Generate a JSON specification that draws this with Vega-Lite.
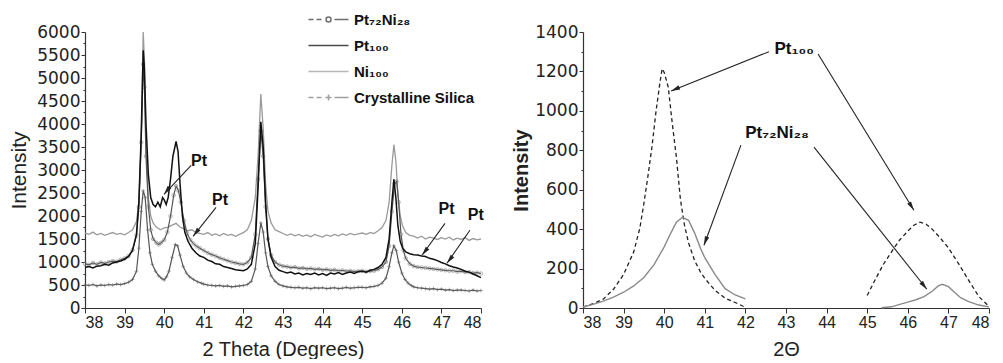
{
"$schema": "https://vega.github.io/schema/vega-lite/v6.json",
"background": "white",
"padding": {"left": 8, "top": 12, "right": 0, "bottom": 0},
"bounds": "flush",
"spacing": 102,
"config": {"view": {"stroke": null}, "font": "Liberation Sans", "axis": {"grid": false, "domainColor": "#333", "tickColor": "#333", "labelColor": "#222", "titleColor": "#222", "domainWidth": 1.2, "tickWidth": 1, "labelOverlap": false}},
"datasets": {
"ni": [{"x":38.0,"y":1630},{"x":38.1,"y":1600},{"x":38.2,"y":1650},{"x":38.3,"y":1590},{"x":38.4,"y":1620},{"x":38.5,"y":1580},{"x":38.6,"y":1610},{"x":38.7,"y":1640},{"x":38.8,"y":1600},{"x":38.9,"y":1620},{"x":39.0,"y":1590},{"x":39.1,"y":1640},{"x":39.2,"y":1700},{"x":39.3,"y":1880},{"x":39.36,"y":2300},{"x":39.42,"y":3600},{"x":39.47,"y":6000},{"x":39.5,"y":5400},{"x":39.54,"y":3500},{"x":39.6,"y":2400},{"x":39.66,"y":2000},{"x":39.72,"y":1850},{"x":39.8,"y":1760},{"x":39.9,"y":1700},{"x":40.0,"y":1740},{"x":40.1,"y":1760},{"x":40.2,"y":1800},{"x":40.3,"y":1840},{"x":40.4,"y":1760},{"x":40.5,"y":1720},{"x":40.6,"y":1680},{"x":40.7,"y":1700},{"x":40.8,"y":1640},{"x":40.9,"y":1620},{"x":41.0,"y":1600},{"x":41.1,"y":1640},{"x":41.2,"y":1580},{"x":41.3,"y":1610},{"x":41.4,"y":1570},{"x":41.5,"y":1620},{"x":41.6,"y":1580},{"x":41.7,"y":1600},{"x":41.8,"y":1560},{"x":41.9,"y":1600},{"x":42.0,"y":1640},{"x":42.1,"y":1700},{"x":42.2,"y":1900},{"x":42.3,"y":2400},{"x":42.37,"y":3300},{"x":42.44,"y":4650},{"x":42.5,"y":3900},{"x":42.56,"y":2700},{"x":42.62,"y":2100},{"x":42.7,"y":1850},{"x":42.8,"y":1700},{"x":42.9,"y":1660},{"x":43.0,"y":1620},{"x":43.1,"y":1580},{"x":43.2,"y":1610},{"x":43.3,"y":1570},{"x":43.4,"y":1600},{"x":43.5,"y":1560},{"x":43.6,"y":1590},{"x":43.7,"y":1550},{"x":43.8,"y":1600},{"x":43.9,"y":1570},{"x":44.0,"y":1540},{"x":44.1,"y":1590},{"x":44.2,"y":1560},{"x":44.3,"y":1600},{"x":44.4,"y":1570},{"x":44.5,"y":1610},{"x":44.6,"y":1580},{"x":44.7,"y":1620},{"x":44.8,"y":1590},{"x":44.9,"y":1610},{"x":45.0,"y":1630},{"x":45.1,"y":1600},{"x":45.2,"y":1640},{"x":45.3,"y":1620},{"x":45.4,"y":1680},{"x":45.5,"y":1750},{"x":45.6,"y":1900},{"x":45.68,"y":2300},{"x":45.75,"y":3100},{"x":45.8,"y":3550},{"x":45.85,"y":3200},{"x":45.9,"y":2500},{"x":45.96,"y":2000},{"x":46.02,"y":1780},{"x":46.1,"y":1640},{"x":46.2,"y":1580},{"x":46.3,"y":1560},{"x":46.4,"y":1520},{"x":46.5,"y":1560},{"x":46.6,"y":1500},{"x":46.7,"y":1540},{"x":46.8,"y":1520},{"x":46.9,"y":1490},{"x":47.0,"y":1530},{"x":47.1,"y":1500},{"x":47.2,"y":1540},{"x":47.3,"y":1480},{"x":47.4,"y":1520},{"x":47.5,"y":1490},{"x":47.6,"y":1530},{"x":47.7,"y":1470},{"x":47.8,"y":1510},{"x":47.9,"y":1480},{"x":48.0,"y":1500}],
"pt": [{"x":38.0,"y":880},{"x":38.1,"y":900},{"x":38.2,"y":870},{"x":38.3,"y":910},{"x":38.4,"y":920},{"x":38.5,"y":950},{"x":38.6,"y":930},{"x":38.7,"y":980},{"x":38.8,"y":1000},{"x":38.9,"y":1020},{"x":39.0,"y":1060},{"x":39.1,"y":1120},{"x":39.2,"y":1250},{"x":39.3,"y":1600},{"x":39.36,"y":2300},{"x":39.42,"y":3800},{"x":39.47,"y":5600},{"x":39.5,"y":5200},{"x":39.54,"y":4000},{"x":39.6,"y":2900},{"x":39.66,"y":2400},{"x":39.72,"y":2250},{"x":39.78,"y":2200},{"x":39.84,"y":2300},{"x":39.9,"y":2200},{"x":39.96,"y":2400},{"x":40.0,"y":2350},{"x":40.05,"y":2250},{"x":40.1,"y":2400},{"x":40.16,"y":2800},{"x":40.22,"y":3300},{"x":40.3,"y":3620},{"x":40.35,"y":3400},{"x":40.4,"y":2700},{"x":40.46,"y":2000},{"x":40.52,"y":1650},{"x":40.6,"y":1450},{"x":40.7,"y":1300},{"x":40.8,"y":1200},{"x":40.9,"y":1130},{"x":41.0,"y":1100},{"x":41.1,"y":1040},{"x":41.2,"y":1010},{"x":41.3,"y":960},{"x":41.4,"y":950},{"x":41.5,"y":900},{"x":41.6,"y":880},{"x":41.7,"y":860},{"x":41.8,"y":830},{"x":41.9,"y":820},{"x":42.0,"y":810},{"x":42.1,"y":850},{"x":42.2,"y":950},{"x":42.3,"y":1400},{"x":42.37,"y":2600},{"x":42.44,"y":4050},{"x":42.5,"y":3500},{"x":42.56,"y":2300},{"x":42.62,"y":1500},{"x":42.7,"y":1100},{"x":42.8,"y":900},{"x":42.9,"y":820},{"x":43.0,"y":790},{"x":43.1,"y":760},{"x":43.2,"y":780},{"x":43.3,"y":740},{"x":43.4,"y":760},{"x":43.5,"y":720},{"x":43.6,"y":750},{"x":43.7,"y":730},{"x":43.8,"y":760},{"x":43.9,"y":720},{"x":44.0,"y":750},{"x":44.1,"y":710},{"x":44.2,"y":760},{"x":44.3,"y":740},{"x":44.4,"y":770},{"x":44.5,"y":730},{"x":44.6,"y":760},{"x":44.7,"y":780},{"x":44.8,"y":750},{"x":44.9,"y":790},{"x":45.0,"y":800},{"x":45.1,"y":780},{"x":45.2,"y":820},{"x":45.3,"y":840},{"x":45.4,"y":880},{"x":45.5,"y":950},{"x":45.6,"y":1100},{"x":45.68,"y":1500},{"x":45.75,"y":2300},{"x":45.8,"y":2800},{"x":45.85,"y":2400},{"x":45.9,"y":1800},{"x":45.96,"y":1450},{"x":46.02,"y":1300},{"x":46.1,"y":1220},{"x":46.2,"y":1180},{"x":46.3,"y":1160},{"x":46.4,"y":1150},{"x":46.5,"y":1130},{"x":46.6,"y":1120},{"x":46.7,"y":1080},{"x":46.8,"y":1060},{"x":46.9,"y":1030},{"x":47.0,"y":990},{"x":47.1,"y":960},{"x":47.2,"y":920},{"x":47.3,"y":890},{"x":47.4,"y":870},{"x":47.5,"y":840},{"x":47.6,"y":800},{"x":47.7,"y":780},{"x":47.8,"y":740},{"x":47.9,"y":700},{"x":48.0,"y":660}],
"ptni": [{"x":38.0,"y":960},{"x":38.1,"y":940},{"x":38.2,"y":980},{"x":38.3,"y":950},{"x":38.4,"y":990},{"x":38.5,"y":970},{"x":38.6,"y":1000},{"x":38.7,"y":1020},{"x":38.8,"y":1010},{"x":38.9,"y":1050},{"x":39.0,"y":1080},{"x":39.1,"y":1130},{"x":39.2,"y":1260},{"x":39.3,"y":1580},{"x":39.36,"y":2200},{"x":39.42,"y":3600},{"x":39.47,"y":5300},{"x":39.5,"y":4800},{"x":39.54,"y":3300},{"x":39.6,"y":2200},{"x":39.66,"y":1700},{"x":39.72,"y":1500},{"x":39.8,"y":1420},{"x":39.86,"y":1380},{"x":39.92,"y":1420},{"x":40.0,"y":1480},{"x":40.08,"y":1650},{"x":40.16,"y":2000},{"x":40.24,"y":2450},{"x":40.3,"y":2650},{"x":40.36,"y":2550},{"x":40.42,"y":2300},{"x":40.5,"y":1900},{"x":40.58,"y":1620},{"x":40.66,"y":1480},{"x":40.74,"y":1400},{"x":40.82,"y":1340},{"x":40.9,"y":1300},{"x":41.0,"y":1250},{"x":41.1,"y":1200},{"x":41.2,"y":1160},{"x":41.3,"y":1130},{"x":41.4,"y":1090},{"x":41.5,"y":1060},{"x":41.6,"y":1030},{"x":41.7,"y":1000},{"x":41.8,"y":980},{"x":41.9,"y":960},{"x":42.0,"y":950},{"x":42.1,"y":990},{"x":42.2,"y":1100},{"x":42.3,"y":1600},{"x":42.37,"y":2800},{"x":42.44,"y":3850},{"x":42.5,"y":3300},{"x":42.56,"y":2200},{"x":42.62,"y":1500},{"x":42.7,"y":1150},{"x":42.8,"y":1000},{"x":42.9,"y":940},{"x":43.0,"y":910},{"x":43.1,"y":900},{"x":43.2,"y":880},{"x":43.3,"y":890},{"x":43.4,"y":860},{"x":43.5,"y":870},{"x":43.6,"y":850},{"x":43.7,"y":860},{"x":43.8,"y":840},{"x":43.9,"y":850},{"x":44.0,"y":830},{"x":44.1,"y":840},{"x":44.2,"y":820},{"x":44.3,"y":830},{"x":44.4,"y":810},{"x":44.5,"y":820},{"x":44.6,"y":800},{"x":44.7,"y":810},{"x":44.8,"y":790},{"x":44.9,"y":800},{"x":45.0,"y":810},{"x":45.1,"y":790},{"x":45.2,"y":800},{"x":45.3,"y":810},{"x":45.4,"y":840},{"x":45.5,"y":890},{"x":45.6,"y":1000},{"x":45.68,"y":1350},{"x":45.75,"y":2100},{"x":45.82,"y":2700},{"x":45.87,"y":2750},{"x":45.92,"y":2300},{"x":45.98,"y":1600},{"x":46.04,"y":1250},{"x":46.1,"y":1080},{"x":46.2,"y":960},{"x":46.3,"y":910},{"x":46.4,"y":890},{"x":46.5,"y":880},{"x":46.6,"y":870},{"x":46.7,"y":860},{"x":46.8,"y":850},{"x":46.9,"y":840},{"x":47.0,"y":830},{"x":47.1,"y":820},{"x":47.2,"y":810},{"x":47.3,"y":810},{"x":47.4,"y":790},{"x":47.5,"y":800},{"x":47.6,"y":780},{"x":47.7,"y":780},{"x":47.8,"y":760},{"x":47.9,"y":770},{"x":48.0,"y":750}],
"si": [{"x":38.0,"y":500},{"x":38.1,"y":490},{"x":38.2,"y":510},{"x":38.3,"y":480},{"x":38.4,"y":500},{"x":38.5,"y":490},{"x":38.6,"y":510},{"x":38.7,"y":500},{"x":38.8,"y":520},{"x":38.9,"y":510},{"x":39.0,"y":530},{"x":39.1,"y":560},{"x":39.2,"y":620},{"x":39.3,"y":800},{"x":39.36,"y":1300},{"x":39.42,"y":2100},{"x":39.47,"y":2550},{"x":39.52,"y":2400},{"x":39.58,"y":1700},{"x":39.64,"y":1200},{"x":39.7,"y":950},{"x":39.78,"y":800},{"x":39.86,"y":700},{"x":39.94,"y":640},{"x":40.0,"y":610},{"x":40.06,"y":680},{"x":40.12,"y":800},{"x":40.2,"y":1100},{"x":40.28,"y":1380},{"x":40.34,"y":1350},{"x":40.4,"y":1150},{"x":40.48,"y":900},{"x":40.56,"y":760},{"x":40.64,"y":680},{"x":40.74,"y":620},{"x":40.84,"y":570},{"x":40.94,"y":540},{"x":41.0,"y":520},{"x":41.1,"y":500},{"x":41.2,"y":490},{"x":41.3,"y":480},{"x":41.4,"y":490},{"x":41.5,"y":470},{"x":41.6,"y":480},{"x":41.7,"y":460},{"x":41.8,"y":470},{"x":41.9,"y":480},{"x":42.0,"y":490},{"x":42.1,"y":510},{"x":42.2,"y":580},{"x":42.3,"y":850},{"x":42.37,"y":1400},{"x":42.44,"y":1850},{"x":42.5,"y":1650},{"x":42.56,"y":1200},{"x":42.62,"y":900},{"x":42.7,"y":700},{"x":42.8,"y":580},{"x":42.9,"y":510},{"x":43.0,"y":480},{"x":43.1,"y":460},{"x":43.2,"y":450},{"x":43.3,"y":440},{"x":43.4,"y":450},{"x":43.5,"y":430},{"x":43.6,"y":440},{"x":43.7,"y":420},{"x":43.8,"y":440},{"x":43.9,"y":430},{"x":44.0,"y":440},{"x":44.1,"y":420},{"x":44.2,"y":430},{"x":44.3,"y":440},{"x":44.4,"y":420},{"x":44.5,"y":430},{"x":44.6,"y":450},{"x":44.7,"y":430},{"x":44.8,"y":440},{"x":44.9,"y":450},{"x":45.0,"y":450},{"x":45.1,"y":440},{"x":45.2,"y":460},{"x":45.3,"y":470},{"x":45.4,"y":490},{"x":45.5,"y":540},{"x":45.6,"y":650},{"x":45.68,"y":900},{"x":45.75,"y":1200},{"x":45.8,"y":1350},{"x":45.86,"y":1250},{"x":45.92,"y":1000},{"x":46.0,"y":760},{"x":46.08,"y":620},{"x":46.16,"y":540},{"x":46.24,"y":490},{"x":46.3,"y":460},{"x":46.4,"y":440},{"x":46.5,"y":430},{"x":46.6,"y":420},{"x":46.7,"y":410},{"x":46.8,"y":420},{"x":46.9,"y":400},{"x":47.0,"y":410},{"x":47.1,"y":390},{"x":47.2,"y":400},{"x":47.3,"y":380},{"x":47.4,"y":390},{"x":47.5,"y":390},{"x":47.6,"y":380},{"x":47.7,"y":370},{"x":47.8,"y":390},{"x":47.9,"y":370},{"x":48.0,"y":380}],
"names": [{"s":"Pt₇₂Ni₂₈"},{"s":"Pt₁₀₀"},{"s":"Ni₁₀₀"},{"s":"Crystalline Silica"}],
"arrL": [{"x":39.995,"y":2472,"xs":40.68,"ys":3102},{"x":40.73,"y":1559,"xs":41.31,"ys":2189},{"x":46.51,"y":1146,"xs":47.09,"ys":1841},{"x":47.14,"y":972,"xs":47.72,"ys":1689}],
"txtL": [{"t":"Pt","x":40.88,"y":3189},{"t":"Pt","x":41.41,"y":2341},{"t":"Pt","x":47.13,"y":2157},{"t":"Pt","x":47.87,"y":2026}],
"rpt": [{"seg":"a","x":38.0,"y":5},{"seg":"a","x":38.25,"y":22},{"seg":"a","x":38.5,"y":45},{"seg":"a","x":38.75,"y":95},{"seg":"a","x":39.0,"y":170},{"seg":"a","x":39.25,"y":285},{"seg":"a","x":39.4,"y":405},{"seg":"a","x":39.5,"y":530},{"seg":"a","x":39.6,"y":670},{"seg":"a","x":39.7,"y":820},{"seg":"a","x":39.8,"y":1000},{"seg":"a","x":39.9,"y":1150},{"seg":"a","x":39.95,"y":1214},{"seg":"a","x":40.0,"y":1195},{"seg":"a","x":40.1,"y":1120},{"seg":"a","x":40.2,"y":934},{"seg":"a","x":40.3,"y":765},{"seg":"a","x":40.4,"y":550},{"seg":"a","x":40.5,"y":420},{"seg":"a","x":40.6,"y":330},{"seg":"a","x":40.75,"y":240},{"seg":"a","x":40.9,"y":180},{"seg":"a","x":41.0,"y":150},{"seg":"a","x":41.25,"y":90},{"seg":"a","x":41.5,"y":50},{"seg":"a","x":41.75,"y":28},{"seg":"a","x":42.0,"y":3},{"seg":"b","x":45.0,"y":63},{"seg":"b","x":45.2,"y":145},{"seg":"b","x":45.4,"y":222},{"seg":"b","x":45.6,"y":285},{"seg":"b","x":45.8,"y":345},{"seg":"b","x":46.0,"y":390},{"seg":"b","x":46.15,"y":420},{"seg":"b","x":46.3,"y":435},{"seg":"b","x":46.45,"y":425},{"seg":"b","x":46.6,"y":400},{"seg":"b","x":46.8,"y":355},{"seg":"b","x":47.0,"y":305},{"seg":"b","x":47.25,"y":225},{"seg":"b","x":47.5,"y":140},{"seg":"b","x":47.75,"y":58},{"seg":"b","x":48.0,"y":8}],
"rptni": [{"seg":"a","x":38.0,"y":5},{"seg":"a","x":38.25,"y":18},{"seg":"a","x":38.5,"y":35},{"seg":"a","x":38.75,"y":55},{"seg":"a","x":39.0,"y":80},{"seg":"a","x":39.25,"y":112},{"seg":"a","x":39.5,"y":155},{"seg":"a","x":39.75,"y":220},{"seg":"a","x":40.0,"y":310},{"seg":"a","x":40.15,"y":375},{"seg":"a","x":40.3,"y":435},{"seg":"a","x":40.45,"y":460},{"seg":"a","x":40.6,"y":445},{"seg":"a","x":40.75,"y":380},{"seg":"a","x":40.9,"y":300},{"seg":"a","x":41.0,"y":255},{"seg":"a","x":41.25,"y":170},{"seg":"a","x":41.5,"y":98},{"seg":"a","x":41.75,"y":66},{"seg":"a","x":42.0,"y":46},{"seg":"b","x":45.35,"y":1},{"seg":"b","x":45.6,"y":6},{"seg":"b","x":45.8,"y":18},{"seg":"b","x":46.0,"y":30},{"seg":"b","x":46.2,"y":42},{"seg":"b","x":46.4,"y":58},{"seg":"b","x":46.6,"y":85},{"seg":"b","x":46.75,"y":112},{"seg":"b","x":46.85,"y":120},{"seg":"b","x":47.0,"y":108},{"seg":"b","x":47.15,"y":80},{"seg":"b","x":47.3,"y":52},{"seg":"b","x":47.5,"y":32},{"seg":"b","x":47.75,"y":15},{"seg":"b","x":48.0,"y":6}],
"arrR": [{"id":1,"x":40.17,"y":1101,"xs":42.58,"ys":1300},{"id":2,"x":46.15,"y":496,"xs":43.79,"ys":1288},{"id":3,"x":40.98,"y":318,"xs":41.89,"ys":826},{"id":4,"x":46.47,"y":95,"xs":43.69,"ys":816}],
"txtR": [{"t":"Pt₁₀₀","x":43.2,"y":1314},{"t":"Pt₇₂Ni₂₈","x":42.78,"y":887}]
},
"hconcat": [
{
"width": 396, "height": 276,
"encoding": {
 "x": {"field": "x", "type": "quantitative", "scale": {"domain": [38, 48], "nice": false, "zero": false},
  "axis": {"title": "2 Theta (Degrees)", "values": [38,38.5,39,39.5,40,40.5,41,41.5,42,42.5,43,43.5,44,44.5,45,45.5,46,46.5,47,47.5,48], "format": "d", "labelExpr": "datum.value % 1 === 0 ? datum.label : ''", "labelOverlap": false, "domain": true, "ticks": true, "tickSize": {"condition": {"test": "datum.value % 1 === 0", "value": 5}, "value": 3}, "labelFont": "Liberation Sans", "labelFontSize": 16, "labelPadding": 1, "titleFont": "Liberation Sans", "titleFontSize": 20, "titleFontWeight": "normal", "titlePadding": 9}},
 "y": {"field": "y", "type": "quantitative", "scale": {"domain": [0, 6000], "nice": false},
  "axis": {"title": "Intensity", "values": [0,250,500,750,1000,1250,1500,1750,2000,2250,2500,2750,3000,3250,3500,3750,4000,4250,4500,4750,5000,5250,5500,5750,6000], "format": "d", "labelExpr": "datum.value % 500 === 0 ? datum.label : ''", "labelOverlap": false, "domain": true, "ticks": true, "tickSize": {"condition": {"test": "datum.value % 500 === 0", "value": 4}, "value": 2}, "labelFont": "DejaVu Sans", "labelFontSize": 17, "labelPadding": 1, "titleFont": "Liberation Sans", "titleFontSize": 21, "titleFontWeight": "normal", "titlePadding": 7}}
},
"layer": [
{"data": {"name": "ni"}, "mark": {"type": "line", "stroke": "#9a9a9a", "strokeWidth": 1.3}},
{"data": {"name": "si"}, "mark": {"type": "line", "stroke": "#555", "strokeWidth": 1.2}},
{"data": {"name": "si"}, "mark": {"type": "point", "shape": "M-1,0H1M0,-1V1", "size": 14, "stroke": "#666", "strokeWidth": 0.8, "filled": false}},
{"data": {"name": "ptni"}, "mark": {"type": "line", "stroke": "#555", "strokeWidth": 1.2}},
{"data": {"name": "ptni"}, "mark": {"type": "point", "shape": "circle", "size": 12, "stroke": "#777", "strokeWidth": 0.8, "filled": false}},
{"data": {"name": "pt"}, "mark": {"type": "line", "stroke": "#111", "strokeWidth": 1.5}},
{"data": {"name": "arrL"}, "mark": {"type": "rule", "stroke": "#222", "strokeWidth": 1.1},
 "encoding": {"x2": {"field": "xs"}, "y2": {"field": "ys"}}},
{"data": {"name": "arrL"}, "mark": {"type": "point", "shape": "M0,0L0.5,2L-0.5,2Z", "size": 81, "angle": -142, "filled": true, "fill": "#222", "strokeWidth": 0, "opacity": 1}},
{"data": {"name": "txtL"}, "mark": {"type": "text", "font": "Liberation Sans", "fontSize": 16, "fontWeight": "bold", "fill": "#111", "align": "center", "baseline": "middle"},
 "encoding": {"text": {"field": "t"}}},
{"data": {"name": "names"}, "transform": [{"filter": "false"}], "mark": {"type": "point", "filled": false, "strokeWidth": 1.5},
 "encoding": {
  "shape": {"field": "s", "type": "nominal", "scale": {"domain": ["Pt₇₂Ni₂₈", "Pt₁₀₀", "Ni₁₀₀", "Crystalline Silica"], "range": ["M-4,0H-3M-2.4,0H-1.4M-0.5,0A0.5,0.5,0,1,1,0.5,0A0.5,0.5,0,1,1,-0.5,0M1.2,0H4", "M-4,0H4", "M-4,0H4", "M-4,0H-3M-2.4,0H-1.4M-0.6,0H0.6M0,-0.6V0.6M1.2,0H4"]},
   "legend": {"orient": "none", "legendX": 236, "legendY": -20, "title": null, "labelFont": "Liberation Sans", "labelFontSize": 15, "labelFontWeight": "bold", "labelColor": "#111", "symbolSize": 100, "symbolStrokeWidth": 1.5, "rowPadding": 10, "labelOffset": 18, "padding": 0}},
  "color": {"field": "s", "type": "nominal", "scale": {"domain": ["Pt₇₂Ni₂₈", "Pt₁₀₀", "Ni₁₀₀", "Crystalline Silica"], "range": ["#333", "#000", "#999", "#777"]},
   "legend": {"orient": "none", "legendX": 236, "legendY": -20, "title": null, "labelFont": "Liberation Sans", "labelFontSize": 15, "labelFontWeight": "bold", "labelColor": "#111", "symbolSize": 100, "symbolStrokeWidth": 1.5, "rowPadding": 10, "labelOffset": 18, "padding": 0}}
 }}
]
},
{
"width": 406, "height": 276,
"encoding": {
 "x": {"field": "x", "type": "quantitative", "scale": {"domain": [38, 48], "nice": false, "zero": false},
  "axis": {"title": "2Θ", "values": [38,38.5,39,39.5,40,40.5,41,41.5,42,42.5,43,43.5,44,44.5,45,45.5,46,46.5,47,47.5,48], "format": "d", "labelExpr": "datum.value % 1 === 0 ? datum.label : ''", "labelOverlap": false, "domain": true, "ticks": true, "tickSize": {"condition": {"test": "datum.value % 1 === 0", "value": 5}, "value": 3}, "labelFont": "Liberation Sans", "labelFontSize": 16, "labelPadding": 1, "titleFont": "Liberation Sans", "titleFontSize": 20, "titleFontWeight": "normal", "titlePadding": 9}},
 "y": {"field": "y", "type": "quantitative", "scale": {"domain": [0, 1400], "nice": false},
  "axis": {"title": "Intensity", "values": [0,100,200,300,400,500,600,700,800,900,1000,1100,1200,1300,1400], "format": "d", "labelExpr": "datum.value % 200 === 0 ? datum.label : ''", "labelOverlap": false, "domain": true, "ticks": true, "tickSize": {"condition": {"test": "datum.value % 200 === 0", "value": 4}, "value": 2}, "labelFont": "DejaVu Sans", "labelFontSize": 17, "labelPadding": 1, "titleFont": "Liberation Sans", "titleFontSize": 20, "titleFontWeight": "bold", "titlePadding": 3}}
},
"layer": [
{"data": {"name": "rpt"}, "mark": {"type": "line", "stroke": "#222", "strokeWidth": 1.3, "strokeDash": [4, 3]},
 "encoding": {"detail": {"field": "seg"}}},
{"data": {"name": "rptni"}, "mark": {"type": "line", "stroke": "#8a8a8a", "strokeWidth": 1.4},
 "encoding": {"detail": {"field": "seg"}}},
{"data": {"name": "arrR"}, "mark": {"type": "rule", "stroke": "#222", "strokeWidth": 1.1},
 "encoding": {"x2": {"field": "xs"}, "y2": {"field": "ys"}}},
{"data": {"name": "arrR"}, "transform": [{"filter": "datum.id === 1"}], "mark": {"type": "point", "shape": "M0,0L0.5,2L-0.5,2Z", "size": 81, "angle": -113, "filled": true, "fill": "#222", "strokeWidth": 0, "opacity": 1}},
{"data": {"name": "arrR"}, "transform": [{"filter": "datum.id === 2"}], "mark": {"type": "point", "shape": "M0,0L0.5,2L-0.5,2Z", "size": 81, "angle": 148, "filled": true, "fill": "#222", "strokeWidth": 0, "opacity": 1}},
{"data": {"name": "arrR"}, "transform": [{"filter": "datum.id === 3"}], "mark": {"type": "point", "shape": "M0,0L0.5,2L-0.5,2Z", "size": 81, "angle": -160, "filled": true, "fill": "#222", "strokeWidth": 0, "opacity": 1}},
{"data": {"name": "arrR"}, "transform": [{"filter": "datum.id === 4"}], "mark": {"type": "point", "shape": "M0,0L0.5,2L-0.5,2Z", "size": 81, "angle": 141, "filled": true, "fill": "#222", "strokeWidth": 0, "opacity": 1}},
{"data": {"name": "txtR"}, "mark": {"type": "text", "font": "Liberation Sans", "fontSize": 17, "fontWeight": "bold", "fill": "#111", "align": "center", "baseline": "middle"},
 "encoding": {"text": {"field": "t"}}}
]
}
]
}
